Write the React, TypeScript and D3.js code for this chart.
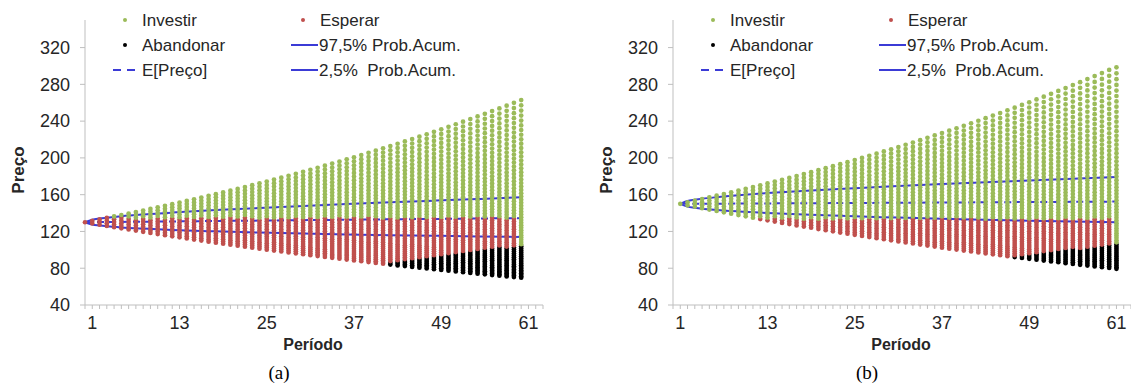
import React from 'react';
import * as d3 from 'd3';

// ---------- data ----------
const yTicks = [40, 80, 120, 160, 200, 240, 280, 320];
const xTickLabels = [1, 13, 25, 37, 49, 61];

// panel (a): lattice columns, periods 0..60
const topA = [130.0,131.5,133.1,134.7,136.3,137.9,139.5,141.1,142.8,144.5,146.2,147.9,149.7,151.4,153.2,155.0,156.9,158.7,160.6,162.5,164.4,166.3,168.3,170.3,172.3,174.3,176.4,178.5,180.6,182.7,184.9,187.1,189.3,191.5,193.8,196.1,198.4,200.7,203.1,205.5,207.9,210.4,212.9,215.4,217.9,220.5,223.1,225.7,228.4,231.1,233.8,236.6,239.4,242.2,245.1,247.9,250.9,253.8,256.8,259.9,262.9];
const bottomA = [130.0,128.7,127.3,126.0,124.7,123.4,122.1,120.9,119.6,118.4,117.2,115.9,114.7,113.6,112.4,111.2,110.1,108.9,107.8,106.7,105.6,104.5,103.4,102.3,101.3,100.2,99.2,98.2,97.2,96.2,95.2,94.2,93.2,92.2,91.3,90.3,89.4,88.5,87.6,86.7,85.8,84.9,84.0,83.1,82.3,81.4,80.6,79.7,78.9,78.1,77.3,76.5,75.7,74.9,74.1,73.4,72.6,71.9,71.1,70.4,69.7];
const investMinA = 135;
const finalInvestMinA = 106;
const abandonStartA = 42;
const abandonMaxA = [86,87,88.5,89.5,91,92,93,94,95.5,96.5,97.5,98.5,99.5,100.5,101.5,102.5,103.5,104.5];

// panel (b): lattice columns, periods 1..61
const topB = [150.0,151.7,153.5,155.3,157.1,158.9,160.7,162.6,164.5,166.4,168.3,170.2,172.2,174.2,176.2,178.2,180.3,182.4,184.5,186.6,188.8,191.0,193.2,195.4,197.7,200.0,202.3,204.6,207.0,209.4,211.8,214.3,216.7,219.3,221.8,224.4,227.0,229.6,232.2,234.9,237.6,240.4,243.2,246.0,248.8,251.7,254.6,257.6,260.5,263.6,266.6,269.7,272.8,276.0,279.2,282.4,285.7,289.0,292.3,295.7,298.5];
const bottomB = [150.0,148.4,146.9,145.3,143.8,142.3,140.8,139.3,137.8,136.4,134.9,133.5,132.1,130.7,129.3,128.0,126.6,125.3,124.0,122.6,121.4,120.1,118.8,117.6,116.3,115.1,113.9,112.7,111.5,110.3,109.2,108.0,106.9,105.7,104.6,103.5,102.4,101.3,100.3,99.2,98.2,97.1,96.1,95.1,94.1,93.1,92.1,91.2,90.2,89.2,88.3,87.4,86.5,85.5,84.6,83.7,82.9,82.0,81.1,80.3,79.4];
const investMinB = 133.8;
const finalInvestMinB = 106.5;
const abandonStartB = 46;
const abandonMaxB = [93,94,95,96,97,98,99,100,101,101.5,102.5,103.5,104.5,105];

// quantile / expectation lines (column index of knots)
const lineKnots = [0,1,2,3,5,8,12,18,24,30,36,42,48,54,60];
const upperA = [130,132.8,134.0,134.9,136.5,138.4,140.5,143.2,145.5,147.7,149.8,151.7,153.5,155.3,157.1];
const meanA = [130,130.1,130.2,130.2,130.4,130.6,130.9,131.4,131.8,132.3,132.7,133.2,133.6,134.1,134.5];
const lowerA = [130,127.4,126.4,125.6,124.4,123.1,121.7,120.1,118.8,117.7,116.8,116.0,115.3,114.6,114.0];
const upperB = [150,153.2,154.5,155.6,157.3,159.4,161.7,164.6,167.1,169.4,171.6,173.6,175.5,177.3,179.1];
const meanB = [150,150.0,150.1,150.1,150.2,150.3,150.5,150.7,151.0,151.2,151.5,151.7,152.0,152.2,152.5];
const lowerB = [150,147.0,145.8,144.8,143.4,141.8,140.1,138.1,136.4,135.1,133.8,132.7,131.7,130.8,130.0];

const legendLabels = ['Investir', 'Esperar', 'Abandonar', '97,5% Prob.Acum.', 'E[Preço]', '2,5%  Prob.Acum.'];

// ---------- styles ----------
const GREEN = '#9BBB59';
const RED = '#C0504D';
const BLACK = '#000000';
const BLUE = '#3B3BD6';
const AXIS = '#BFBFBF';
const TEXT = '#262626';
const FONT = '"Liberation Sans", Arial, sans-serif';

type PanelProps = {
  offset: number;
  firstPeriod: number;
  top: number[];
  bottom: number[];
  investMin: number;
  finalInvestMin: number;
  abandonStart: number;
  abandonMax: number[];
  upper: number[];
  mean: number[];
  lower: number[];
  caption: string;
};

function Panel(p: PanelProps) {
  const x = d3.scaleLinear().domain([0, 63]).range([85 + p.offset, 543 + p.offset]);
  const y = d3.scaleLinear().domain([40, 350]).range([305, 20]);
  const last = p.top.length - 1;

  const dots: { cx: number; cy: number; c: string }[] = [];
  for (let i = 0; i <= last; i++) {
    const period = p.firstPeriod + i;
    for (let k = 0; k <= i; k++) {
      const price = i === 0 ? p.top[0] : p.bottom[i] * Math.pow(p.top[i] / p.bottom[i], k / i);
      let c = RED;
      if (i === last) {
        c = price >= p.finalInvestMin ? GREEN : BLACK;
      } else if (price >= p.investMin) {
        c = GREEN;
      } else {
        const ai = i - p.abandonStart;
        if (ai >= 0 && ai < p.abandonMax.length && price <= p.abandonMax[ai]) c = BLACK;
      }
      dots.push({ cx: x(period), cy: y(price), c });
    }
  }

  const line = d3
    .line<number>()
    .x((_, j) => x(p.firstPeriod + lineKnots[j]))
    .y((v) => y(v))
    .curve(d3.curveMonotoneX);

  const xTicks = d3.range(0, 64);
  const lx = p.offset;

  return (
    <g>
      {/* axes */}
      <line x1={x(0)} x2={x(0)} y1={y(350)} y2={y(40)} stroke={AXIS} strokeWidth={1} />
      <line x1={x(0)} x2={x(63)} y1={y(40)} y2={y(40)} stroke={AXIS} strokeWidth={1} />
      {yTicks.map((t) => (
        <g key={'y' + t}>
          <line x1={x(0) - 5} x2={x(0)} y1={y(t)} y2={y(t)} stroke={AXIS} />
          <text x={x(0) - 15} y={y(t)} dy="0.35em" textAnchor="end" fontSize={18} fill={TEXT} fontFamily={FONT}>
            {t}
          </text>
        </g>
      ))}
      {xTicks.map((t) => (
        <line key={'xt' + t} x1={x(t)} x2={x(t)} y1={y(40)} y2={y(40) + 4} stroke={AXIS} />
      ))}
      {xTickLabels.map((t) => (
        <text key={'xl' + t} x={x(t)} y={y(40) + 18} dy="0.35em" textAnchor="middle" fontSize={18} fill={TEXT} fontFamily={FONT}>
          {t}
        </text>
      ))}
      <text x={313 + lx} y={344} dy="0.35em" textAnchor="middle" fontSize={16} fontWeight="bold" fill={TEXT} fontFamily={FONT}>
        Período
      </text>
      <text
        transform={`translate(${18 + lx},170) rotate(-90)`}
        dy="0.35em"
        textAnchor="middle"
        fontSize={17}
        fontWeight="bold"
        fill={TEXT}
        fontFamily={FONT}
      >
        Preço
      </text>
      <text x={279 + lx} y={372} dy="0.35em" textAnchor="middle" fontSize={19} fill="#000" fontFamily='"Liberation Serif", "Times New Roman", serif'>
        {p.caption}
      </text>

      {/* lines behind the dots */}
      <path d={line(p.upper) || ''} fill="none" stroke={BLUE} strokeWidth={2} />
      <path d={line(p.lower) || ''} fill="none" stroke={BLUE} strokeWidth={2} />
      <path d={line(p.mean) || ''} fill="none" stroke={BLUE} strokeWidth={2} strokeDasharray="7,5" />

      {/* lattice dots */}
      {dots.map((d, j) => (
        <circle key={j} cx={d.cx} cy={d.cy} r={2.35} fill={d.c} />
      ))}

      {/* legend */}
      <g fontFamily={FONT} fontSize={17} fill={TEXT}>
        <circle cx={125 + lx} cy={20} r={2} fill={GREEN} />
        <text x={142 + lx} y={20} dy="0.35em">{legendLabels[0]}</text>
        <circle cx={303 + lx} cy={20} r={2} fill={RED} />
        <text x={320 + lx} y={20} dy="0.35em">{legendLabels[1]}</text>
        <circle cx={125 + lx} cy={45} r={2} fill={BLACK} />
        <text x={142 + lx} y={45} dy="0.35em">{legendLabels[2]}</text>
        <line x1={291 + lx} x2={318 + lx} y1={45} y2={45} stroke={BLUE} strokeWidth={2} />
        <text x={319 + lx} y={45} dy="0.35em">{legendLabels[3]}</text>
        <line x1={113 + lx} x2={136 + lx} y1={70} y2={70} stroke={BLUE} strokeWidth={2} strokeDasharray="8,6" />
        <text x={142 + lx} y={70} dy="0.35em">{legendLabels[4]}</text>
        <line x1={291 + lx} x2={318 + lx} y1={70} y2={70} stroke={BLUE} strokeWidth={2} />
        <text x={319 + lx} y={70} dy="0.35em" style={{ whiteSpace: 'pre' }}>{legendLabels[5]}</text>
      </g>
    </g>
  );
}

export default function App() {
  return (
    <svg width={1131} height={383} style={{ position: 'absolute', left: 0, top: 0, background: '#fff' }}>
      <rect width={1131} height={383} fill="#fff" />
      <Panel
        offset={0}
        firstPeriod={0}
        top={topA}
        bottom={bottomA}
        investMin={investMinA}
        finalInvestMin={finalInvestMinA}
        abandonStart={abandonStartA}
        abandonMax={abandonMaxA}
        upper={upperA}
        mean={meanA}
        lower={lowerA}
        caption="(a)"
      />
      <Panel
        offset={588}
        firstPeriod={1}
        top={topB}
        bottom={bottomB}
        investMin={investMinB}
        finalInvestMin={finalInvestMinB}
        abandonStart={abandonStartB}
        abandonMax={abandonMaxB}
        upper={upperB}
        mean={meanB}
        lower={lowerB}
        caption="(b)"
      />
    </svg>
  );
}
